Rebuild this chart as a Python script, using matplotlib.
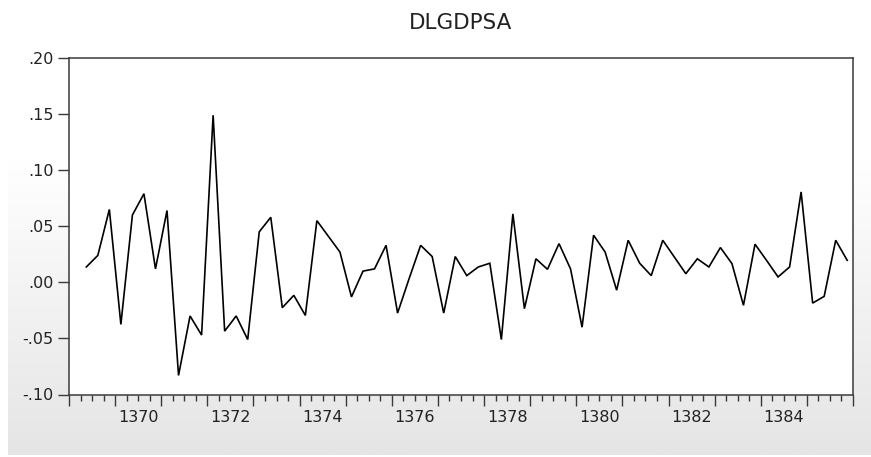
import numpy as np
import matplotlib
matplotlib.use("Agg")
import matplotlib.pyplot as plt

# ---- data (quarterly, starting 1369 Q2) ----
title = "DLGDPSA"
start_year = 1369
start_quarter = 2
values = [0.0137, 0.024, 0.065, -0.0375, 0.060, 0.079, 0.012, 0.064, -0.083, -0.030,
          -0.047, 0.149, -0.0435, -0.030, -0.051, 0.045, 0.058, -0.0226, -0.0116, -0.0295,
          0.055, 0.041, 0.027, -0.013, 0.010, 0.012, 0.033, -0.0274, 0.0033, 0.033,
          0.023, -0.0274, 0.023, 0.006, 0.0137, 0.017, -0.051, 0.061, -0.0235, 0.021,
          0.0116, 0.0345, 0.012, -0.040, 0.042, 0.027, -0.007, 0.0375, 0.017, 0.006,
          0.0375, 0.0226, 0.0077, 0.021, 0.0137, 0.031, 0.0167, -0.0205, 0.034, 0.0196,
          0.0048, 0.0137, 0.0806, -0.0185, -0.0125, 0.0375, 0.0196]
ytick_values = [-0.10, -0.05, 0.00, 0.05, 0.10, 0.15, 0.20]
ytick_labels = ["-.10", "-.05", ".00", ".05", ".10", ".15", ".20"]
xlabel_years = [1370, 1372, 1374, 1376, 1378, 1380, 1382, 1384]
axis_years = (1369, 1386)

# quarter positions: observation plotted at the middle of its quarter
n = len(values)
qidx = np.arange(n) + (start_quarter - 1)
xpos = start_year + qidx / 4.0 + 0.125

W, H = 871, 457
fig = plt.figure(figsize=(W / 100, H / 100), dpi=100)
fig.patch.set_facecolor("white")

# background gradient panel
bg = fig.add_axes([8 / W, 2 / H, 1 - 8 / W, 1 - 2 / H], zorder=0)
rows = np.arange(H)
g = np.where(rows < 160, 1.0, 1.0 - (rows - 160) / (455 - 160) * (1 - 229 / 255))
img = np.repeat(g[:, None], 2, axis=1)
bg.imshow(np.dstack([img, img, img]), aspect="auto", extent=[0, 1, 0, 1], interpolation="bilinear")
bg.axis("off")

L, R, T, B = 69, 853, 58, 394.5
ax = fig.add_axes([L / W, (H - B) / H, (R - L) / W, (B - T) / H], zorder=1)
ax.set_facecolor("white")
ax.plot(xpos, values, color="black", lw=1.2, solid_joinstyle="miter")

ax.set_xlim(*axis_years)
ax.set_ylim(-0.10, 0.20)

spine_c = "#3a3a3a"
for s in ax.spines.values():
    s.set_color(spine_c)
    s.set_linewidth(1.1)

ax.set_yticks(ytick_values)
ax.set_yticklabels(ytick_labels)
ax.tick_params(axis="y", direction="out", length=8, width=1.0, color=spine_c,
               pad=3, labelsize=11.5, labelcolor="#222222")

years = np.arange(axis_years[0], axis_years[1] + 1)
ax.set_xticks(years)
ax.set_xticklabels([])
ax.set_xticks(np.arange(axis_years[0], axis_years[1] + 0.01, 0.25), minor=True)
ax.tick_params(axis="x", which="major", direction="out", length=8, width=1.0, color=spine_c)
ax.tick_params(axis="x", which="minor", direction="out", length=4.5, width=1.0, color=spine_c)

sec = ax.secondary_xaxis("bottom")
sec.set_xticks([y + 0.5 for y in xlabel_years])
sec.set_xticklabels([str(y) for y in xlabel_years])
sec.tick_params(length=0, pad=11, labelsize=11.5, labelcolor="#222222")
sec.spines["bottom"].set_visible(False)

for lab in ax.get_yticklabels() + sec.get_xticklabels():
    lab.set_fontfamily("DejaVu Sans")

fig.text((L + R) / 2 / W, 1 - 23 / H, title, ha="center", va="center",
         fontsize=15.5, color="#222222", family="DejaVu Sans")

fig.savefig("out.png", dpi=100)
